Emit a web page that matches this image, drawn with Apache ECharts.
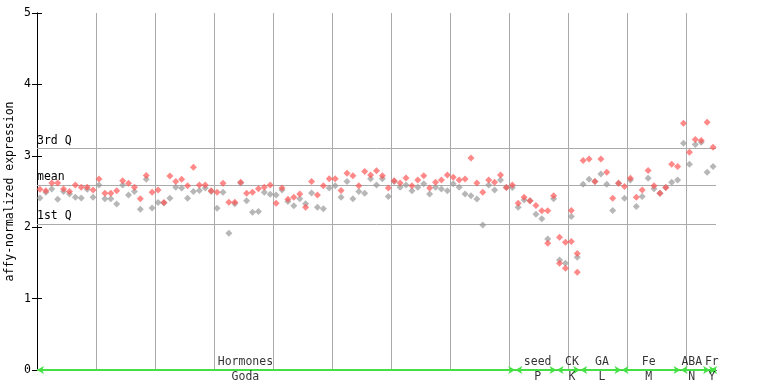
<!DOCTYPE html>
<html><head><meta charset="utf-8">
<script src="https://cdn.jsdelivr.net/npm/echarts@6/dist/echarts.min.js"></script>
<style>html,body{margin:0;padding:0;background:#fff}#c{width:768px;height:384px}</style>
</head><body><div id="c"></div>
<script>
// expression values, one pair per sample column (0..114)
const redValues = [
 2.53,2.51,2.62,2.62,2.535,2.50,2.59,2.56,2.56,2.52,
 2.675,2.475,2.475,2.51,2.65,2.615,2.56,2.40,2.725,2.49,
 2.52,2.345,2.717,2.64,2.67,2.58,2.84,2.59,2.59,2.51,
 2.49,2.615,2.35,2.35,2.63,2.475,2.49,2.54,2.56,2.59,
 2.335,2.55,2.39,2.42,2.465,2.28,2.64,2.45,2.58,2.68,
 2.68,2.515,2.755,2.72,2.58,2.78,2.73,2.79,2.72,2.55,
 2.65,2.62,2.69,2.58,2.66,2.72,2.55,2.63,2.66,2.73,
 2.70,2.66,2.675,2.97,2.62,2.49,2.66,2.63,2.73,2.555,
 2.59,2.335,2.42,2.37,2.305,2.23,2.23,2.44,1.86,1.79,
 2.235,1.63,2.935,2.955,2.64,2.955,2.77,2.405,2.615,2.57,
 2.685,2.42,2.52,2.795,2.58,2.475,2.555,2.88,2.85,3.455,
 3.05,3.23,3.215,3.47,3.12
];
const grayValues = [
 2.41,2.49,2.535,2.39,2.50,2.465,2.42,2.41,2.53,2.42,
 2.59,2.40,2.40,2.325,2.59,2.45,2.50,2.25,2.67,2.27,
 2.345,2.34,2.405,2.56,2.55,2.405,2.50,2.515,2.55,2.50,
 2.265,2.49,1.915,2.33,2.62,2.37,2.21,2.22,2.49,2.46,
 2.45,2.52,2.36,2.30,2.40,2.33,2.48,2.28,2.26,2.55,
 2.58,2.42,2.64,2.40,2.50,2.475,2.68,2.59,2.68,2.43,
 2.64,2.56,2.59,2.51,2.56,2.61,2.465,2.56,2.535,2.51,
 2.61,2.56,2.465,2.44,2.395,2.03,2.59,2.52,2.66,2.555,
 2.555,2.28,2.38,2.37,2.18,2.12,1.835,2.40,1.54,1.495,
 2.15,1.58,2.60,2.67,2.64,2.745,2.60,2.235,2.615,2.405,
 2.66,2.29,2.43,2.685,2.54,2.475,2.555,2.63,2.66,3.175,
 2.88,3.16,3.19,2.77,2.85
];
const extraColumns = [86, 88, 89, 90, 91];
const extraValues = [1.775, 1.495, 1.425, 1.80, 1.37];
const refNames = ['3rd Q', 'mean', '1st Q'];
const refValues = [3.105, 2.59, 2.04];
const groupTop = ['Hormones', 'seed', 'CK', 'GA', 'Fe', 'ABA', 'Fr'];
const groupBottom = ['Goda', 'P', 'K', 'L', 'M', 'N', 'Y'];
const groupStart = [0, 81, 88, 92, 99, 109, 114];
const groupEnd = [81, 88, 92, 99, 109, 114, 115];
const groupLabelAt = [35.3, 84.8, 90.6, 95.7, 103.6, 110.9, 114.3];
const columnCount = 115;

const FONT = 'DejaVu Sans Mono';
const RED = 'rgba(255,80,80,0.85)';
const GRAY = 'rgba(150,150,150,0.85)';
const GREEN = '#44e044';

const redData = redValues.map((v, i) => [i + 0.5, v]);
const grayData = grayValues.map((v, i) => [i + 0.5, v]);
const extraData = extraColumns.map((c, i) => [c + 0.5, extraValues[i]]);

const chart = echarts.init(document.getElementById('c'), null, {renderer: 'canvas'});
chart.setOption({
  animation: false,
  grid: {left: 37, right: 52, top: 13, bottom: 14, show: false, containLabel: false, outerBoundsMode: 'none'},
  xAxis: [{
    type: 'value', min: 0, max: columnCount, interval: 10,
    axisLine: {show: true, lineStyle: {color: '#000', width: 1}},
    axisTick: {show: false}, axisLabel: {show: false},
    splitLine: {show: true, showMinLine: false, showMaxLine: false, lineStyle: {color: '#aaaaaa', width: 1}}
  }, {
    type: 'value', min: 0, max: columnCount, position: 'top',
    axisLine: {show: true, lineStyle: {color: '#000', width: 1}},
    axisTick: {show: false}, axisLabel: {show: false}, splitLine: {show: false}
  }],
  yAxis: [{
    type: 'value', min: 0, max: 5, interval: 1,
    name: 'affy-normalized expression', nameLocation: 'middle', nameGap: 21, nameMoveOverlap: false,
    nameTextStyle: {fontFamily: FONT, fontSize: 11.5, color: '#000'},
    axisLine: {show: true, lineStyle: {color: '#000', width: 1}},
    axisTick: {show: true, inside: true, length: 5, lineStyle: {color: '#000'}},
    axisLabel: {fontFamily: FONT, fontSize: 11.5, color: '#000', margin: 6},
    splitLine: {show: false}
  }, {
    type: 'value', min: 0, max: 5, interval: 1, position: 'right',
    axisLine: {show: true, lineStyle: {color: '#000', width: 1}},
    axisTick: {show: true, inside: true, length: 5, lineStyle: {color: '#000'}},
    axisLabel: {show: false}, splitLine: {show: false}
  }],
  series: [{
    type: 'scatter', symbol: 'diamond', symbolSize: 7,
    itemStyle: {color: GRAY}, data: grayData, z: 3,
    markLine: {
      silent: true, symbol: 'none', z: 1,
      lineStyle: {color: '#aaaaaa', width: 1, type: 'solid'},
      label: {show: true, position: 'insideStartTop', formatter: '{b}', distance: [0, 2],
        fontFamily: FONT, fontSize: 11.5, color: '#000'},
      data: refValues.map((v, i) => ({name: refNames[i], yAxis: v}))
    }
  }, {
    type: 'scatter', symbol: 'diamond', symbolSize: 7,
    itemStyle: {color: RED}, data: redData, z: 4
  }, {
    type: 'scatter', symbol: 'diamond', symbolSize: 7,
    itemStyle: {color: RED}, data: extraData, z: 4
  }, {
    type: 'scatter', symbol: 'circle', symbolSize: 1, itemStyle: {color: 'transparent'}, z: 6, clip: false,
    data: groupTop.map((n, i) => ({name: n, value: [groupLabelAt[i], 0]})),
    label: {show: true, position: 'top', distance: 1, formatter: '{b}',
      fontFamily: FONT, fontSize: 11.5, color: '#000'},
    labelLayout: {hideOverlap: false},
    markLine: {
      silent: true, symbol: ['arrow', 'arrow'], symbolSize: [6, 7],
      lineStyle: {color: GREEN, width: 2, type: 'solid'},
      label: {show: false},
      data: groupStart.map((s, i) => [{coord: [s, 0]}, {coord: [groupEnd[i], 0]}])
    }
  }, {
    type: 'scatter', symbol: 'circle', symbolSize: 1, itemStyle: {color: 'transparent'}, z: 6, clip: false,
    data: groupBottom.map((n, i) => ({name: n, value: [groupLabelAt[i], 0]})),
    label: {show: true, position: 'bottom', distance: 1, formatter: '{b}',
      fontFamily: FONT, fontSize: 11.5, color: '#000'},
    labelLayout: {hideOverlap: false}
  }]
});
</script>
</body></html>
